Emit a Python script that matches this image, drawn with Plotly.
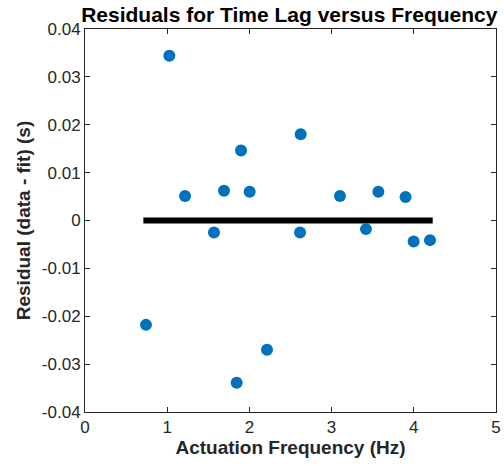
import plotly.graph_objects as go

freq = [0.742, 1.026, 1.217, 1.569, 1.691, 1.845, 1.898, 2.003, 2.214,
        2.616, 2.624, 3.102, 3.418, 3.569, 3.90, 3.998, 4.197]
resid = [-0.0218, 0.0344, 0.0051, -0.0025, 0.0062, -0.0339, 0.0146, 0.0060, -0.0270,
         -0.0025, 0.0180, 0.0051, -0.0018, 0.0060, 0.0049, -0.0044, -0.0041]

fit_x = [0.71, 4.23]
fit_y = [0, 0]

x_ticks = [0, 1, 2, 3, 4, 5]
y_ticks = [-0.04, -0.03, -0.02, -0.01, 0, 0.01, 0.02, 0.03, 0.04]
y_labels = ["-0.04", "-0.03", "-0.02", "-0.01", "0", "0.01", "0.02", "0.03", "0.04"]

fig = go.Figure()
fig.add_trace(go.Scatter(x=fit_x, y=fit_y, mode="lines",
                         line=dict(color="black", width=6), showlegend=False))
fig.add_trace(go.Scatter(x=freq, y=resid, mode="markers",
                         marker=dict(color="#0072BD", size=12), showlegend=False))

axis_common = dict(showline=True, linecolor="#262626", linewidth=1, mirror="ticks",
                   ticks="inside", ticklen=5, tickcolor="#262626", showgrid=False,
                   zeroline=False, automargin=False, tickfont=dict(size=17, color="#262626"))

fig.update_xaxes(range=[0, 5], tickvals=x_ticks,
                 title=dict(text="<b>Actuation Frequency (Hz)</b>", font=dict(size=19, color="#262626"), standoff=4),
                 **axis_common)
fig.update_yaxes(range=[-0.04, 0.04], tickvals=y_ticks, ticktext=y_labels,
                 title=dict(text="<b>Residual (data - fit) (s)</b>", font=dict(size=19, color="#262626"), standoff=6),
                 **axis_common)

fig.update_layout(
    width=504, height=466,
    margin=dict(l=85, r=8, t=29, b=54),
    paper_bgcolor="white", plot_bgcolor="white",
    font=dict(family="Liberation Sans, Arial, sans-serif"),
    title=dict(text="<b>Residuals for Time Lag versus Frequency</b>", x=0.574, xanchor="center",
               y=0.969, yanchor="middle", font=dict(size=21, color="black")),
)

# drop the default page margin so the figure fills the window exactly
fig.write_html("out.html", config={"displayModeBar": False},
               post_script="document.body.style.margin='0';")
